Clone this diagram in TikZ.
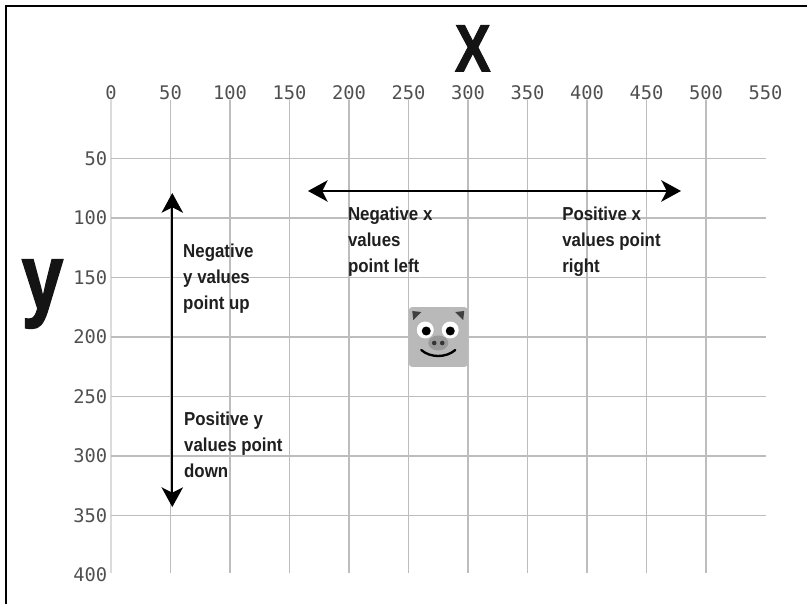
\documentclass[tikz,border=0pt]{standalone}
\usepackage{fontspec}
\usetikzlibrary{arrows.meta}
\newfontfamily\tickfont{DejaVu Sans Mono}
\newfontfamily\notefont[FakeStretch=0.9]{Liberation Sans}
\newfontfamily\axisfont[FakeStretch=0.8,FakeBold=1.5]{Liberation Sans}
\definecolor{gridgray}{HTML}{BDBDBD}
\definecolor{ticktext}{HTML}{505050}
\definecolor{pigskin}{HTML}{B9B9B9}
\definecolor{pigsnout}{HTML}{999999}

\tikzset{
  gridline/.style={gridgray, line width=1.2pt},
  ticklabel/.style={font=\tickfont\fontsize{16}{16}\selectfont, text=ticktext, inner sep=0pt},
  note/.style={font=\notefont\bfseries\fontsize{16}{22}\selectfont, text=black!88,
    align=left, inner sep=0pt, anchor=north west},
  axislabel/.style={inner sep=0pt, text=black!92},
  >={Stealth[length=5.9mm, width=6.4mm, inset=1.6mm]},
}

\begin{document}
\begin{tikzpicture}[x=0.0357cm, y=-0.0357cm]
    \useasboundingbox (-93.28,-83.19) rectangle (584.87,424.37);

    % frame along the top and left
    \draw[line width=1.8pt] (-88.2,424.4) -- (-88.2,-78.2) -- (584.9,-78.2);

    % grid
    \draw[gridline, gridgray!55] (0,0.5) -- (0,398);
    \foreach \x in {50,100,...,500}
        \draw[gridline] (\x,0.5) -- (\x,398);
    \foreach \y in {50,100,...,350}
        \draw[gridline] (0,\y) -- (550,\y);

    % tick labels
    \foreach \x in {0,50,...,550}
        \node[ticklabel] (x\x) at (\x,-5.5) {\x};
    \foreach \y in {50,100,...,400}
        \node[ticklabel, anchor=east] (y\y) at (-3,\y) {\y};

    % axis names
    \node[axislabel, font=\axisfont\bfseries\fontsize{57}{57}\selectfont] (xname) at (304,-42.5) {X};
    \node[axislabel, font=\axisfont\bfseries\fontsize{80}{80}\selectfont] (yname) at (-57.6,163.9) {y};

    % direction arrows
    \coordinate (leftend) at (165.5,77.3);
    \coordinate (rightend) at (479,77.3);
    \coordinate (upend) at (51.5,79);
    \coordinate (downend) at (51.5,342.9);

    \path[<->, line width=2pt]
    (leftend) edge (rightend)
    (upend) edge (downend)
    ;

    \node[note] (upnote) at (60.5,121.8) {Negative\\y values\\point up};
    \node[note] (downnote) at (61.3,263) {Positive y\\values point\\down};
    \node[note] (leftnote) at (199,90.8) {Negative x\\values\\point left};
    \node[note] (rightnote) at (379,90.8) {Positive x\\values point\\right};

    % the pig
    \begin{scope}[shift={(275,200)}, scale=0.84]
        \fill[pigskin, rounded corners=3] (-29.5,-30) rectangle (29.5,30);
        \fill[black!75] (-26,-26) -- (-17,-25) -- (-25,-17) -- cycle;
        \fill[black!75] (26,-26) -- (17,-25) -- (25,-17) -- cycle;
        \fill[white] (-13,-7) circle (8.5) (12,-7) circle (8.5);
        \fill[black] (-12,-6) circle (4.5) (12,-6) circle (4.5);
        \fill[pigsnout] (0,6) ellipse (10 and 7.5);
        \fill[black!80] (-4,6) circle (2.3) (4,6) circle (2.3);
        \draw[line width=2pt, line cap=round] (-17,13) .. controls (-8,21) and (8,21) .. (17,13);
    \end{scope}
\end{tikzpicture}
\end{document}
